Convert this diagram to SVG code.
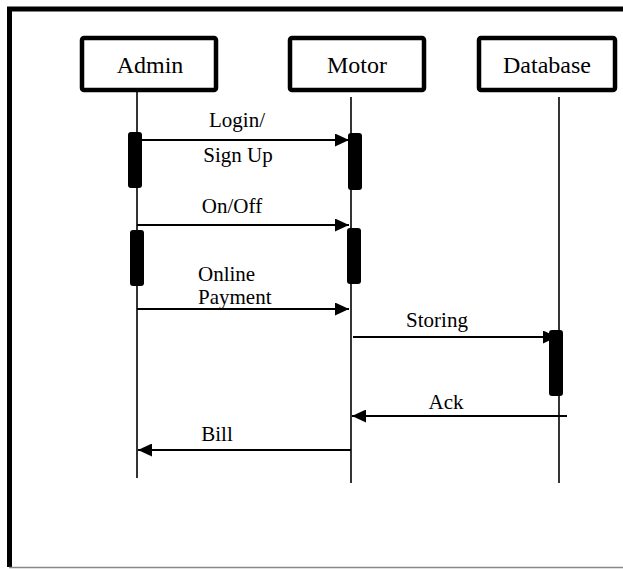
<svg xmlns="http://www.w3.org/2000/svg" width="623" height="569" viewBox="0 0 623 569">
<defs>
<marker id="ah" markerWidth="14" markerHeight="13" refX="14" refY="6.5" orient="auto" markerUnits="userSpaceOnUse">
<path d="M0,0 L14,6.5 L0,13 Z" fill="#000"/>
</marker>
</defs>
<style>
.box{fill:#fff;stroke:#000;stroke-width:4.5}
.life{stroke:#000;stroke-width:1.6;fill:none}
.act{fill:#000}
.msg{stroke:#000;stroke-width:1.8;fill:none;marker-end:url(#ah)}
.lbl{font-family:"Liberation Serif","Times New Roman",serif;font-size:24px;fill:#000;text-anchor:middle}
.t{font-family:"Liberation Serif","Times New Roman",serif;font-size:21px;fill:#000}
</style>
<rect width="623" height="569" fill="#fff"/>
<g id="frame">
<path d="M9.5,567 L9.5,9 L623,9" fill="none" stroke="#000" stroke-width="5"/>
<line x1="9" y1="567.5" x2="623" y2="567.5" stroke="#888" stroke-width="1.5"/>
</g>
<g id="admin">
<rect class="box" x="82" y="38" width="134" height="52" rx="2"/>
<text class="lbl" x="150" y="73">Admin</text>
<line class="life" x1="137" y1="92" x2="137" y2="478"/>
<rect class="act" x="128" y="132" width="14" height="56" rx="3"/>
<rect class="act" x="130" y="230" width="14" height="56" rx="3"/>
</g>
<g id="motor">
<rect class="box" x="290" y="38" width="134" height="52" rx="2"/>
<text class="lbl" x="357" y="73">Motor</text>
<line class="life" x1="351" y1="97" x2="351" y2="483"/>
<rect class="act" x="348" y="133" width="14" height="57" rx="3"/>
<rect class="act" x="347" y="228" width="14" height="56" rx="3"/>
</g>
<g id="database">
<rect class="box" x="479" y="38" width="136" height="52" rx="2"/>
<text class="lbl" x="547" y="73">Database</text>
<line class="life" x1="559" y1="97" x2="559" y2="483"/>
<rect class="act" x="549" y="330" width="14" height="66" rx="3"/>
</g>
<g id="connectors">
<line class="msg" x1="142" y1="140" x2="349" y2="140"/>
<line class="msg" x1="137" y1="225" x2="349" y2="225"/>
<line class="msg" x1="137" y1="309" x2="349" y2="309"/>
<line class="msg" x1="353" y1="337" x2="557" y2="337"/>
<line class="msg" x1="567" y1="416" x2="352" y2="416"/>
<line class="msg" x1="351" y1="450" x2="138" y2="450"/>
</g>
<g id="labels">
<text class="t" x="237" y="127" text-anchor="middle">Login/</text>
<text class="t" x="238" y="162" text-anchor="middle">Sign Up</text>
<text class="t" x="232" y="213" text-anchor="middle">On/Off</text>
<text class="t" x="198" y="281">Online</text>
<text class="t" x="198" y="304">Payment</text>
<text class="t" x="437" y="327" text-anchor="middle">Storing</text>
<text class="t" x="446" y="409" text-anchor="middle">Ack</text>
<text class="t" x="217" y="441" text-anchor="middle">Bill</text>
</g>
</svg>
